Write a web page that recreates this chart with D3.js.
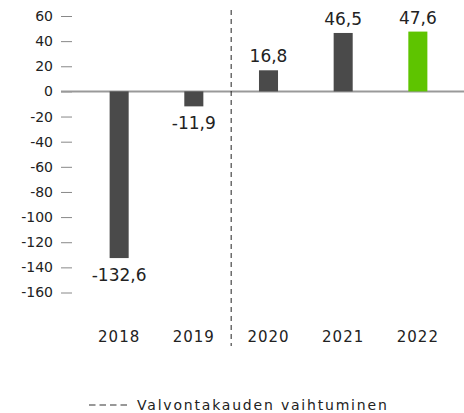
<!DOCTYPE html>
<html><head><meta charset="utf-8">
<script src="https://cdn.jsdelivr.net/npm/d3@7"></script>
<style>
html,body{margin:0;padding:0;background:#fff;}
text{font-family:"DejaVu Sans",sans-serif;fill:#222;}
</style></head>
<body>
<svg id="chart" width="464" height="413"></svg>
<script>
const years = ["2018","2019","2020","2021","2022"];
const values = [-132.6, -11.9, 16.8, 46.5, 47.6];
const valueLabels = ["-132,6","-11,9","16,8","46,5","47,6"];
const yTicks = [60,40,20,0,-20,-40,-60,-80,-100,-120,-140,-160];
const legendText = "Valvontakauden vaihtuminen";

const svg = d3.select("#chart");
const y = d3.scaleLinear().domain([60,-160]).range([16,292.5]);
const x = d3.scaleBand().domain(years).range([82,455]).paddingInner(0.745).paddingOuter(0.37);

// y axis ticks
const yAxis = d3.axisLeft(y).tickValues(yTicks).tickSize(11).tickPadding(8).tickFormat(d=>String(d));
const ga = svg.append("g").attr("transform","translate(72,0)").call(yAxis);
ga.select(".domain").remove();
ga.selectAll(".tick line").attr("stroke","#888").attr("stroke-width",1);
ga.selectAll(".tick text").style("font-family","DejaVu Sans").style("font-size","14px").attr("fill","#2a2a2a");

// zero line
svg.append("line").attr("x1",61).attr("x2",464).attr("y1",y(0)).attr("y2",y(0))
  .attr("stroke","#999").attr("stroke-width",2);

// bars
svg.selectAll("rect.bar").data(values).join("rect").attr("class","bar")
  .attr("x",(d,i)=>x(years[i])).attr("width",x.bandwidth())
  .attr("y",d=>y(Math.max(0,d))).attr("height",d=>Math.abs(y(d)-y(0)))
  .attr("fill",(d,i)=>i===values.length-1?"#5ec400":"#4a4a4a");

// value labels
svg.selectAll("text.val").data(values).join("text").attr("class","val")
  .attr("x",(d,i)=>x(years[i])+x.bandwidth()/2)
  .attr("y",d=>d<0?y(d)+22.5:y(d)-8)
  .attr("text-anchor","middle").style("font-size","17px").attr("fill","#2a2a2a").text((d,i)=>valueLabels[i]);

// x labels
const xAxis = d3.axisBottom(x).tickSize(0).tickPadding(0);
const gx = svg.append("g").attr("transform","translate(0,342)").call(xAxis);
gx.select(".domain").remove();
gx.selectAll(".tick text").attr("dy",0).style("font-family","DejaVu Sans").style("font-size","15px")
  .style("letter-spacing","1px").attr("fill","#2a2a2a");

// dashed divider
const divX = (x("2019")+x.bandwidth()+x("2020"))/2;
svg.append("line").attr("x1",divX).attr("x2",divX).attr("y1",10).attr("y2",346)
  .attr("stroke","#222").attr("stroke-width",1).attr("stroke-dasharray","5,4");

// legend
svg.append("line").attr("x1",89).attr("x2",127).attr("y1",405).attr("y2",405)
  .attr("stroke","#333").attr("stroke-width",1.2).attr("stroke-dasharray","6.5,4");
svg.append("text").attr("x",137).attr("y",410).style("font-size","14px").style("letter-spacing","1.8px")
  .attr("fill","#2a2a2a").text(legendText);
</script>
</body></html>
